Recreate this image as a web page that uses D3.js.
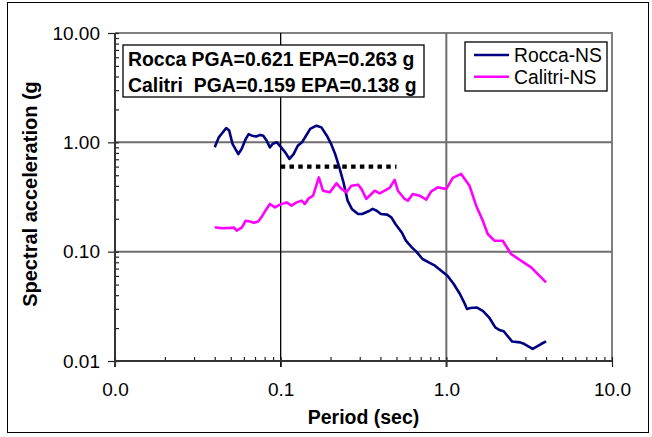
<!DOCTYPE html>
<html>
<head>
<meta charset="utf-8">
<script src="https://cdn.jsdelivr.net/npm/d3@7"></script>
<style>
  html, body { margin: 0; padding: 0; background: #fff; }
  svg { display: block; font-family: "Liberation Sans", Arial, sans-serif; }
</style>
</head>
<body>
<svg id="chart" width="652" height="437"></svg>
<script>
// Response spectra: [period (s), spectral acceleration (g)]
const roccaNS = [
  [0.040, 0.90], [0.0423, 1.11], [0.0443, 1.21], [0.0469, 1.35], [0.0489, 1.28],
  [0.0512, 0.97], [0.0555, 0.78], [0.0581, 0.87], [0.0615, 1.07], [0.0641, 1.19],
  [0.0671, 1.15], [0.0711, 1.13], [0.0754, 1.17], [0.0785, 1.15], [0.0822, 1.04],
  [0.0861, 0.90], [0.0896, 0.97], [0.0950, 1.00], [0.1007, 0.90], [0.1066, 0.81],
  [0.113, 0.705], [0.1197, 0.78], [0.1268, 0.93], [0.1344, 1.00], [0.1423, 1.15],
  [0.1507, 1.33], [0.1644, 1.42], [0.1762, 1.37], [0.190, 1.15], [0.2014, 0.97],
  [0.2133, 0.78], [0.226, 0.59], [0.2394, 0.43], [0.2536, 0.293], [0.269, 0.246],
  [0.293, 0.221], [0.3105, 0.221], [0.339, 0.234], [0.359, 0.246], [0.380, 0.237],
  [0.403, 0.221], [0.4395, 0.218], [0.4656, 0.206], [0.493, 0.179], [0.538, 0.150],
  [0.570, 0.126], [0.621, 0.109], [0.659, 0.100], [0.718, 0.0857], [0.783, 0.0798],
  [0.854, 0.0745], [0.931, 0.067], [1.016, 0.0603], [1.108, 0.0506], [1.208, 0.041],
  [1.28, 0.0344], [1.333, 0.0299], [1.396, 0.0305], [1.523, 0.0309], [1.66, 0.0288],
  [1.81, 0.0251], [1.974, 0.0203], [2.09, 0.0192], [2.22, 0.0187], [2.49, 0.0151],
  [2.79, 0.0148], [2.96, 0.0143], [3.32, 0.0129], [3.73, 0.0143], [4.0, 0.0151]
];

const calitriNS = [
  [0.040, 0.167], [0.0442, 0.164], [0.0494, 0.165], [0.0523, 0.166], [0.0543, 0.156],
  [0.0584, 0.167], [0.0615, 0.192], [0.0652, 0.189], [0.069, 0.184], [0.0732, 0.189],
  [0.0776, 0.2135], [0.0822, 0.246], [0.0861, 0.273], [0.0923, 0.254], [0.0989, 0.269],
  [0.1085, 0.2825], [0.1163, 0.2635], [0.1247, 0.2825], [0.1337, 0.293], [0.140, 0.273],
  [0.1465, 0.3035], [0.157, 0.325], [0.170, 0.478], [0.180, 0.361], [0.198, 0.349],
  [0.2172, 0.4215], [0.2328, 0.375], [0.2495, 0.349], [0.2673, 0.401], [0.293, 0.410],
  [0.307, 0.375], [0.329, 0.3035], [0.3527, 0.337], [0.3694, 0.361], [0.396, 0.3415],
  [0.4243, 0.361], [0.455, 0.383], [0.4875, 0.453], [0.5103, 0.361], [0.560, 0.3035],
  [0.586, 0.293], [0.628, 0.337], [0.690, 0.325], [0.7565, 0.299], [0.811, 0.356],
  [0.889, 0.3875], [1.0, 0.3746], [1.094, 0.4724], [1.229, 0.514], [1.38, 0.401],
  [1.514, 0.2635], [1.66, 0.192], [1.778, 0.145], [1.95, 0.126], [2.19, 0.126],
  [2.46, 0.0953], [2.76, 0.0845], [3.25, 0.0718], [4.0, 0.0524]
];

// Design spectrum plateau (dotted)
const plateau = [[0.1, 0.6], [0.5, 0.6]];

const seriesNames = ["Rocca-NS", "Calitri-NS"];
const seriesColors = ["#000080", "#FF00FF"];
const infoLines = ["Rocca PGA=0.621 EPA=0.263 g", "Calitri  PGA=0.159 EPA=0.138 g"];

const xMajor = [0.01, 0.1, 1, 10];
const yMajor = [0.01, 0.1, 1, 10];
const xTitle = "Period (sec)";
const yTitle = "Spectral acceleration (g";

const svg = d3.select("#chart");
const L = 115, R = 612, T = 33, B = 361;
const x = d3.scaleLog().domain([0.01, 10]).range([L, R]);
const y = d3.scaleLog().domain([0.01, 10]).range([B, T]);

const minor = [];
for (const d of [0.01, 0.1, 1]) for (let k = 2; k <= 9; k++) minor.push(d * k);

// outer frame
svg.append("rect").attr("x", 7.5).attr("y", 2.5).attr("width", 641).attr("height", 430)
  .attr("fill", "#fff").attr("stroke", "#000").attr("stroke-width", 1);

// plot frame (top and right)
svg.append("path")
  .attr("d", `M${L},${T}H${R}V${B}`)
  .attr("fill", "none").attr("stroke", "#808080").attr("stroke-width", 2);

// gridlines
const g = svg.append("g");
[0.1, 1].forEach(v => {
  g.append("line").attr("x1", L).attr("x2", R).attr("y1", y(v)).attr("y2", y(v))
    .attr("stroke", "#6e6e6e").attr("stroke-width", 2);
});
g.append("line").attr("x1", x(1)).attr("x2", x(1)).attr("y1", T).attr("y2", B + 6)
  .attr("stroke", "#6e6e6e").attr("stroke-width", 2);
g.append("line").attr("x1", x(0.1)).attr("x2", x(0.1)).attr("y1", T).attr("y2", B + 6)
  .attr("stroke", "#000").attr("stroke-width", 1.3);

// axes
const xAxisMinor = d3.axisBottom(x).tickValues(minor).tickSize(-4).tickFormat("");
const xAxisMajor = d3.axisBottom(x).tickValues(xMajor).tickSize(6).tickPadding(16)
  .tickFormat(d3.format(".1f"));
const yAxisMinor = d3.axisLeft(y).tickValues(minor).tickSize(-4).tickFormat("");
const yAxisMajor = d3.axisLeft(y).tickValues(yMajor).tickSize(7).tickPadding(8)
  .tickFormat(d3.format(".2f"));

function styleAxis(sel) {
  sel.select(".domain").remove();
  sel.selectAll("line").attr("stroke", "#222").attr("stroke-width", 1.2);
  sel.selectAll("text").attr("fill", "#000").style("font-size", "19px")
    .style("font-family", '"Liberation Sans", Arial, sans-serif');
}

svg.append("g").attr("transform", `translate(0,${B})`).call(xAxisMinor).call(styleAxis);
svg.append("g").attr("transform", `translate(0,${B})`).call(xAxisMajor).call(styleAxis)
  .selectAll(".tick line").attr("y1", -4);
svg.append("g").attr("transform", `translate(${L},0)`).call(yAxisMinor).call(styleAxis);
svg.append("g").attr("transform", `translate(${L},0)`).call(yAxisMajor).call(styleAxis)
  .selectAll(".tick line").attr("x1", 4);

// axis lines
svg.append("line").attr("x1", L).attr("x2", R).attr("y1", B).attr("y2", B)
  .attr("stroke", "#333").attr("stroke-width", 2);
svg.append("line").attr("x1", L).attr("x2", L).attr("y1", T).attr("y2", B + 6)
  .attr("stroke", "#333").attr("stroke-width", 2);

// plateau
const line = d3.line().x(d => x(d[0])).y(d => y(d[1]));
svg.append("path").datum(plateau).attr("d", line)
  .attr("fill", "none").attr("stroke", "#000").attr("stroke-width", 4.3)
  .attr("stroke-dasharray", "4.5,4.3");

// spectra
[roccaNS, calitriNS].forEach((data, i) => {
  svg.append("path").datum(data).attr("d", line)
    .attr("fill", "none").attr("stroke", seriesColors[i]).attr("stroke-width", 2.6)
    .attr("stroke-linejoin", "round");
});

// axis titles
svg.append("text").attr("x", (L + R) / 2).attr("y", 424).attr("text-anchor", "middle")
  .style("font-size", "19.5px").style("font-weight", "bold").text(xTitle);
svg.append("text").attr("transform", "translate(37,194) rotate(-90)").attr("text-anchor", "middle")
  .style("font-size", "20px").style("font-weight", "bold").text(yTitle);

// info box
svg.append("rect").attr("x", 123).attr("y", 45).attr("width", 301).attr("height", 52)
  .attr("fill", "#fff").attr("stroke", "#000").attr("stroke-width", 1.3);
infoLines.forEach((t, i) => {
  svg.append("text").attr("x", 128).attr("y", 66 + i * 25.5)
    .attr("xml:space", "preserve").style("white-space", "pre")
    .style("font-size", "19.4px").style("font-weight", "bold").text(t);
});

// legend
svg.append("rect").attr("x", 465).attr("y", 42).attr("width", 142).attr("height", 49)
  .attr("fill", "#fff").attr("stroke", "#000").attr("stroke-width", 1.3);
seriesNames.forEach((n, i) => {
  const ly = 55 + i * 21.7;
  svg.append("line").attr("x1", 474).attr("x2", 509).attr("y1", ly).attr("y2", ly)
    .attr("stroke", seriesColors[i]).attr("stroke-width", 2.6);
  svg.append("text").attr("x", 514).attr("y", ly + 7).style("font-size", "19.3px").text(n);
});
</script>
</body>
</html>
